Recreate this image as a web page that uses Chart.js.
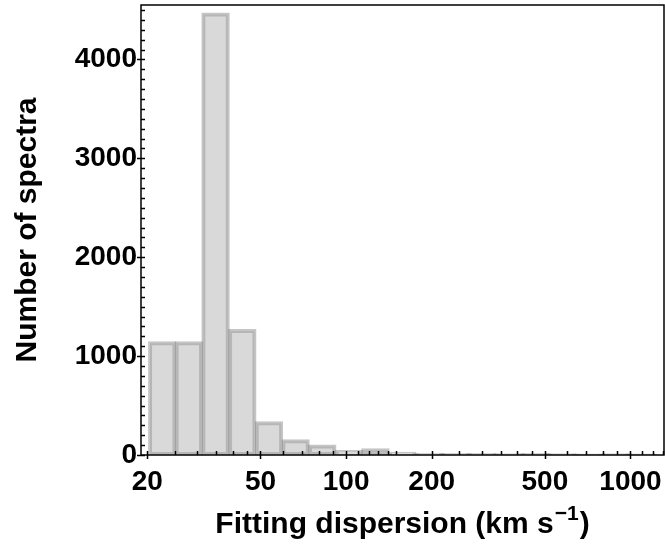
<!DOCTYPE html>
<html>
<head>
<meta charset="utf-8">
<script src="https://cdn.jsdelivr.net/npm/chart.js@4.4.1/dist/chart.umd.min.js"></script>
<style>
  html, body { margin: 0; padding: 0; background: #fff; }
  #chart { display: block; }
</style>
</head>
<body>
<canvas id="chart" width="665" height="545"></canvas>
<script>
// histogram bins (km/s), log spaced
const binEdges = [20.3, 25.1, 31.2, 38.7, 48.1, 59.6, 74.0, 91.8, 114, 141,
                  176, 218, 270, 336, 416, 517, 641, 796, 988, 1226];
const counts   = [1140, 1140, 4465, 1265, 330, 150, 95, 40, 57, 22,
                  12, 10, 9, 8, 10, 7, 6, 8, 5];

// axis ticks
const xMajor = [20, 50, 100, 200, 500, 1000];
const xMinor = [25, 30, 35, 40, 45, 60, 70, 80, 90, 110, 120, 130, 140, 150,
                250, 300, 350, 400, 450, 600, 700, 800, 900, 1100, 1200, 1300];
const yMajor = [0, 1000, 2000, 3000, 4000];
const yMinorStep = 100;

// x title: main text + superscript exponent
const xTitle = ['Fitting dispersion (km s', '\u22121', ')'];

const X_MIN = 19, X_MAX = 1312, Y_MAX = 4550;
const FONT = '"Liberation Sans", Arial, sans-serif';

// bar centres = geometric middle of each bin (equal width on a log axis)
const points = counts.map((c, i) => ({
  x: Math.sqrt(binEdges[i] * binEdges[i + 1]),
  y: c,
}));

// no extra room for half-labels, the frame is placed by hand
function noPad(s) {
  s.paddingTop = 0;
  s.paddingBottom = 0;
  s.paddingLeft = 0;
  s.paddingRight = 0;
}

// frame + matplotlib-like tick marks (majors in/out, minors inward)
const tickMarks = {
  id: 'tickMarks',
  afterDraw(chart) {
    const { ctx, chartArea: a, scales: { x, y } } = chart;
    ctx.save();
    ctx.strokeStyle = '#000';
    ctx.lineWidth = 1.5;
    ctx.strokeRect(a.left, a.top, a.right - a.left, a.bottom - a.top);

    ctx.beginPath();
    xMinor.forEach(v => {
      const p = Math.round(x.getPixelForValue(v)) + 0.5;
      if (p < a.left || p > a.right) return;
      ctx.moveTo(p, a.bottom);
      ctx.lineTo(p, a.bottom - 4);
    });
    xMajor.forEach(v => {
      const p = Math.round(x.getPixelForValue(v)) + 0.5;
      ctx.moveTo(p, a.bottom + 4);
      ctx.lineTo(p, a.bottom - 4);
    });
    for (let v = 0; v <= Y_MAX; v += yMinorStep) {
      const p = Math.round(y.getPixelForValue(v)) + 0.5;
      if (p < a.top) break;
      const major = yMajor.includes(v);
      ctx.moveTo(a.left - (major ? 4 : 0), p);
      ctx.lineTo(a.left + 4, p);
    }
    ctx.stroke();

    // x axis title with a real superscript
    const big = `bold 30px ${FONT}`, small = `bold 21px ${FONT}`;
    ctx.fillStyle = '#000';
    ctx.textBaseline = 'alphabetic';
    ctx.textAlign = 'left';
    ctx.font = big;
    const w0 = ctx.measureText(xTitle[0]).width;
    const w2 = ctx.measureText(xTitle[2]).width;
    ctx.font = small;
    const w1 = ctx.measureText(xTitle[1]).width + 2;
    const base = 533;
    let tx = (a.left + a.right) / 2 - (w0 + w1 + w2) / 2;
    ctx.font = big;
    ctx.fillText(xTitle[0], tx, base);
    tx += w0 + 1;
    ctx.font = small;
    ctx.fillText(xTitle[1], tx, base - 13);
    tx += w1 - 1;
    ctx.font = big;
    ctx.fillText(xTitle[2], tx, base);
    ctx.restore();
  }
};

new Chart(document.getElementById('chart'), {
  type: 'bar',
  data: {
    datasets: [{
      data: points,
      backgroundColor: 'rgba(160,160,160,0.4)',
      borderColor: 'rgba(110,110,110,0.4)',
      borderWidth: 2,
      borderSkipped: false,
      inflateAmount: 1,
      categoryPercentage: 1,
      barPercentage: 1,
    }]
  },
  options: {
    responsive: false,
    animation: false,
    devicePixelRatio: 1,
    layout: { padding: { top: 5, right: 1, left: 0, bottom: 0 } },
    plugins: { legend: { display: false }, tooltip: { enabled: false } },
    scales: {
      x: {
        type: 'logarithmic',
        min: X_MIN,
        max: X_MAX,
        offset: false,
        grid: { display: false, drawTicks: false },
        border: { display: false },
        afterBuildTicks: s => { s.ticks = xMajor.map(v => ({ value: v })); },
        afterFit: s => { s.height = 90; noPad(s); },
        ticks: {
          autoSkip: false,
          maxRotation: 0,
          padding: 10,
          color: '#000',
          font: { family: FONT, size: 28, weight: 'bold' },
          callback: v => String(v),
        },
        title: { display: false },
      },
      y: {
        min: 0,
        max: Y_MAX,
        grid: { display: false, drawTicks: false },
        border: { display: false },
        afterBuildTicks: s => { s.ticks = yMajor.map(v => ({ value: v })); },
        afterFit: s => { s.width = 141; noPad(s); },
        ticks: {
          padding: 4,
          color: '#000',
          font: { family: FONT, size: 28, weight: 'bold' },
          callback: v => String(v),
        },
        title: {
          display: true,
          text: 'Number of spectra',
          color: '#000',
          font: { family: FONT, size: 30, weight: 'bold' },
          padding: { top: 10, bottom: 0 },
        },
      },
    },
  },
  plugins: [tickMarks],
});
</script>
</body>
</html>
